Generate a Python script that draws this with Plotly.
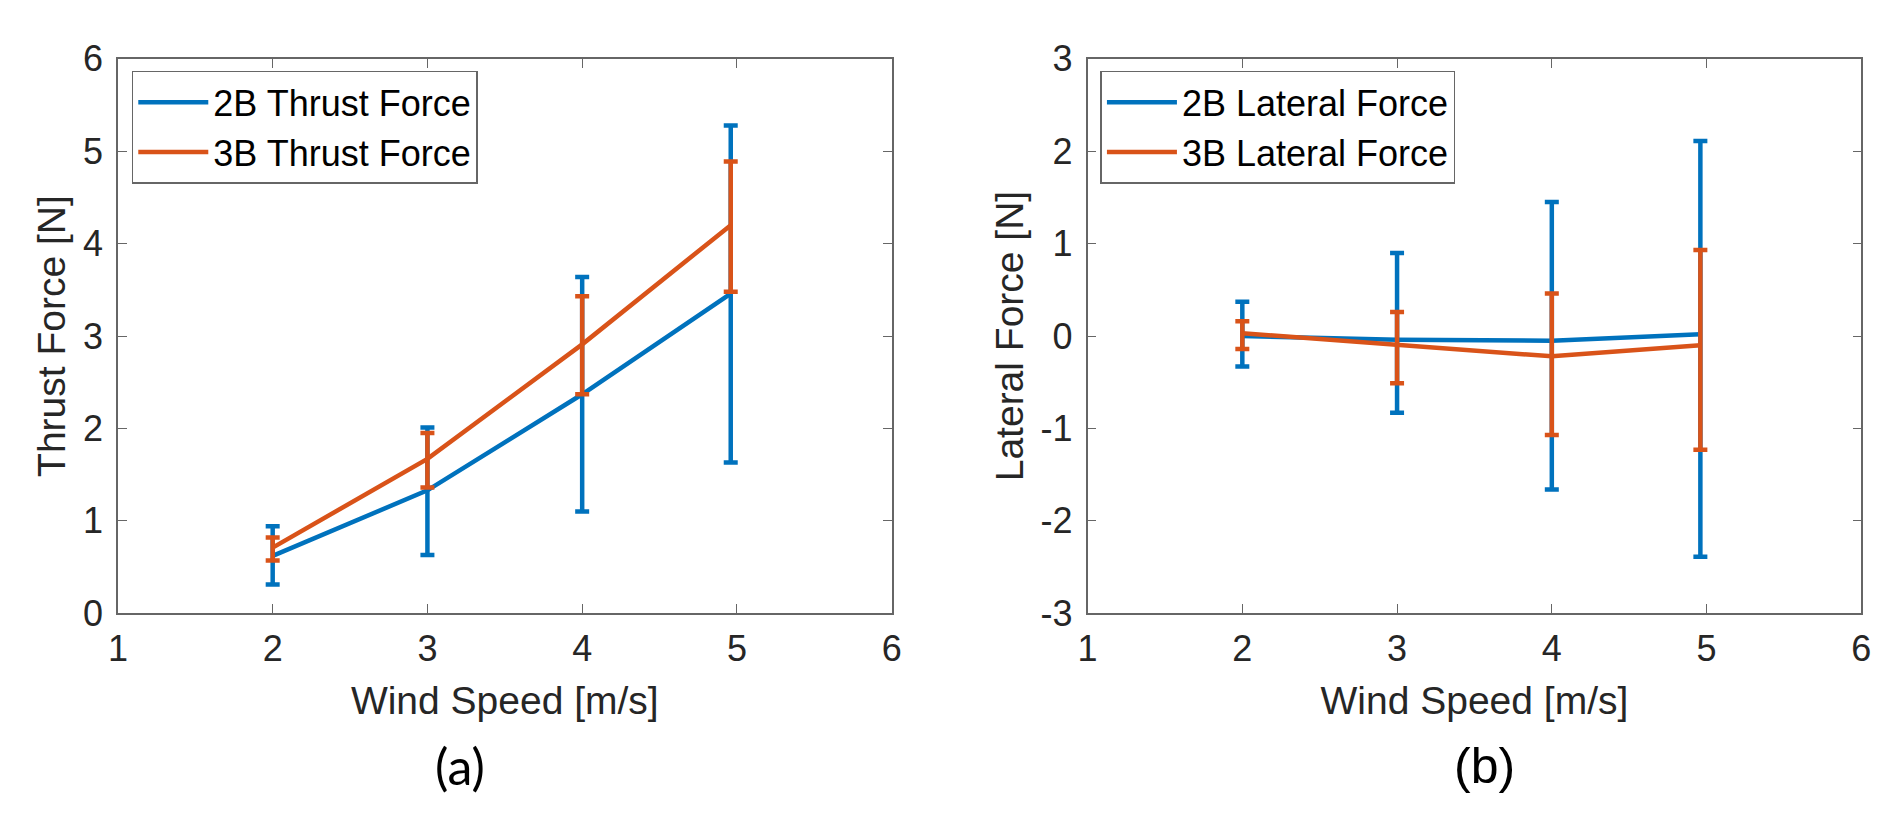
import plotly.graph_objects as go

# ---- data ----
wind_speed = [2, 3, 4, 4.96]

thrust_2b = [0.62, 1.33, 2.37, 3.46]
thrust_2b_up = [0.32, 0.68, 1.27, 1.82]
thrust_2b_dn = [0.31, 0.70, 1.27, 1.83]

thrust_3b = [0.71, 1.67, 2.91, 4.20]
thrust_3b_up = [0.11, 0.28, 0.52, 0.69]
thrust_3b_dn = [0.14, 0.31, 0.54, 0.72]

lateral_2b = [0.00, -0.04, -0.05, 0.02]
lateral_2b_up = [0.37, 0.94, 1.50, 2.09]
lateral_2b_dn = [0.33, 0.79, 1.61, 2.41]

lateral_3b = [0.03, -0.09, -0.22, -0.10]
lateral_3b_up = [0.13, 0.35, 0.68, 1.03]
lateral_3b_dn = [0.17, 0.42, 0.85, 1.13]

x_ticks = [1, 2, 3, 4, 5, 6]
thrust_ticks = [0, 1, 2, 3, 4, 5, 6]
lateral_ticks = [-3, -2, -1, 0, 1, 2, 3]
lateral_tick_text = ["-3", "-2", "-1", "0", "1", "2", "3"]

BLUE = "#0072BD"
ORANGE = "#D95319"
AX = "#262626"
AXLINE = "#666666"
FONT = "Liberation Sans, Arial, sans-serif"

W, H = 1892, 820


def px_x(p):
    return p / W


def px_y(p):
    return 1 - p / H


fig = go.Figure()


def add_series(x, y, up, dn, color, name, xa, ya, legend):
    fig.add_trace(go.Scatter(
        x=x, y=y, mode="lines", name=name,
        line=dict(color=color, width=4.5),
        error_y=dict(type="data", symmetric=False, array=up, arrayminus=dn,
                     color=color, thickness=4.5, width=7),
        xaxis=xa, yaxis=ya, legend=legend,
    ))


add_series(wind_speed, thrust_2b, thrust_2b_up, thrust_2b_dn, BLUE, "2B Thrust Force", "x", "y", "legend")
add_series(wind_speed, thrust_3b, thrust_3b_up, thrust_3b_dn, ORANGE, "3B Thrust Force", "x", "y", "legend")
add_series(wind_speed, lateral_2b, lateral_2b_up, lateral_2b_dn, BLUE, "2B Lateral Force", "x2", "y2", "legend2")
add_series(wind_speed, lateral_3b, lateral_3b_up, lateral_3b_dn, ORANGE, "3B Lateral Force", "x2", "y2", "legend2")

ydom = [px_y(616), px_y(32.5)]

common_axis = dict(
    showline=True, linecolor=AXLINE, linewidth=1.5, mirror="ticks",
    ticks="inside", ticklen=9, tickwidth=1.3, tickcolor=AXLINE,
    showgrid=False, zeroline=False,
    tickfont=dict(family=FONT, size=36, color=AX),
)

title_font = dict(family=FONT, size=39, color=AX)

legend_common = dict(
    xanchor="left", yanchor="top",
    bgcolor="white", bordercolor=AXLINE, borderwidth=1.5,
    font=dict(family=FONT, size=36, color="black"),
    itemwidth=70, tracegroupgap=0,
)

fig.update_layout(
    width=W, height=H,
    margin=dict(l=0, r=0, t=0, b=0),
    paper_bgcolor="white", plot_bgcolor="white",
    font=dict(family=FONT, color=AX),
    xaxis=dict(domain=[px_x(101), px_x(883)], range=[1, 6], tickvals=x_ticks,
               anchor="y", ticklabelstandoff=3,
               title=dict(text="Wind Speed [m/s]", font=title_font, standoff=19),
               **common_axis),
    yaxis=dict(domain=ydom, range=[0, 6], tickvals=thrust_ticks, anchor="x",
               title=dict(text="Thrust Force [N]", font=title_font, standoff=5),
               ticklabelstandoff=6, **common_axis),
    xaxis2=dict(domain=[px_x(1081), px_x(1863)], range=[1, 6], tickvals=x_ticks,
                anchor="y2", ticklabelstandoff=3,
                title=dict(text="Wind Speed [m/s]", font=title_font, standoff=19),
                **common_axis),
    yaxis2=dict(domain=ydom, range=[-3, 3], tickvals=lateral_ticks,
                ticktext=lateral_tick_text, anchor="x2",
                title=dict(text="Lateral Force [N]", font=title_font, standoff=5),
                ticklabelstandoff=6, **common_axis),
    legend=dict(x=px_x(115), y=px_y(45), **legend_common),
    legend2=dict(x=px_x(1094), y=px_y(45), **legend_common),
    showlegend=True,
)

fig.add_annotation(text="(a)", x=px_x(447), y=px_y(777), xref="paper", yref="paper",
                   xanchor="center", yanchor="middle", showarrow=False,
                   font=dict(family="Lato, sans-serif", size=50, color="black"))
fig.add_annotation(text="(b)", x=px_x(1482), y=px_y(777), xref="paper", yref="paper",
                   xanchor="center", yanchor="middle", showarrow=False,
                   font=dict(family=FONT, size=50, color="black"))

fig.write_html("out.html")
